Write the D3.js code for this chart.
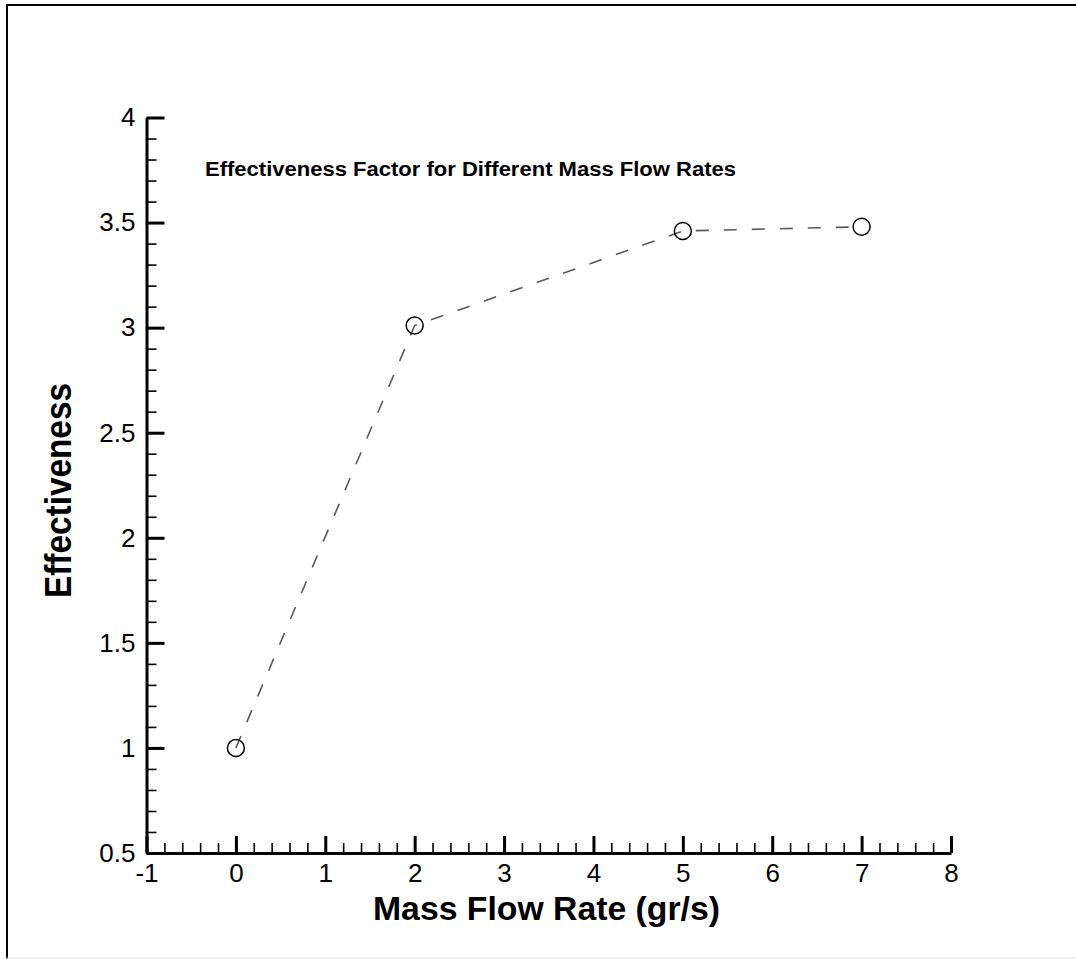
<!DOCTYPE html>
<html>
<head>
<meta charset="utf-8">
<script src="https://cdn.jsdelivr.net/npm/d3@7"></script>
<style>
  body { margin: 0; background: #fff; }
  svg { display: block; }
</style>
</head>
<body>
<div id="chart"></div>
<script>
// # Data.
const massFlow      = [0, 2, 5, 7]
const effectiveness = [1.0, 3.01, 3.46, 3.48]
const xMajorTicks   = [-1, 0, 1, 2, 3, 4, 5, 6, 7, 8]
const yMajorTicks   = [0.5, 1, 1.5, 2, 2.5, 3, 3.5, 4]
const chartTitle    = 'Effectiveness Factor for Different Mass Flow Rates'
const xTitle        = 'Mass Flow Rate (gr/s)'
const yTitle        = 'Effectiveness'

const width = 1076, height = 959
const points = massFlow.map((m, i) => ({x: m, y: effectiveness[i]}))

let svg = d3.select('#chart')
    .append('svg')
    .attr('width', width)
    .attr('height', height)

svg.append('rect')
    .attr('width', width)
    .attr('height', height)
    .attr('fill', '#fff')

// # Page frame (dark top/left, light bottom).
svg.append('line').attr('x1', 6).attr('x2', width).attr('y1', 5).attr('y2', 5)
    .attr('stroke', '#000').attr('stroke-width', 2)
svg.append('line').attr('x1', 7).attr('x2', 7).attr('y1', 4).attr('y2', height)
    .attr('stroke', '#000').attr('stroke-width', 2)
svg.append('line').attr('x1', 6).attr('x2', width).attr('y1', 958).attr('y2', 958)
    .attr('stroke', '#e4e4e4').attr('stroke-width', 1)

// # Scales.
let x = d3.scaleLinear().domain([-1, 8]).range([146.5, 951])
let y = d3.scaleLinear().domain([0.5, 4]).range([853, 117.5])

const font = '"Liberation Sans", Arial, Helvetica, sans-serif'

// # Minor ticks.
let xMinor = d3.range(-1, 8.001, 0.2).map(v => +v.toFixed(2))
let yMinor = d3.range(0.5, 4.001, 0.1).map(v => +v.toFixed(2))

svg.append('g')
    .attr('transform', `translate(0,${y(0.5)})`)
    .call(d3.axisBottom(x).tickValues(xMinor).tickSize(-10).tickFormat(''))
    .call(g => g.select('.domain').remove())
    .call(g => g.selectAll('line').attr('stroke', '#000').attr('stroke-width', 1.6))

svg.append('g')
    .attr('transform', `translate(${x(-1)},0)`)
    .call(d3.axisLeft(y).tickValues(yMinor).tickSize(-10).tickFormat(''))
    .call(g => g.select('.domain').remove())
    .call(g => g.selectAll('line').attr('stroke', '#000').attr('stroke-width', 1.6))

// # Major axes.
svg.append('g')
    .attr('transform', `translate(0,${y(0.5)})`)
    .call(d3.axisBottom(x).tickValues(xMajorTicks).tickSizeInner(-17).tickSizeOuter(0)
        .tickPadding(11).tickFormat(d3.format('d')))
    .call(g => g.select('.domain').attr('stroke', '#000').attr('stroke-width', 3))
    .call(g => g.selectAll('line').attr('stroke', '#000').attr('stroke-width', 3))
    .call(g => g.selectAll('text')
        .attr('fill', '#000')
        .style('font-family', font)
        .style('font-size', '26px')
        .text(d => d < 0 ? '-' + Math.abs(d) : d))

svg.append('g')
    .attr('transform', `translate(${x(-1)},0)`)
    .call(d3.axisLeft(y).tickValues(yMajorTicks).tickSizeInner(-18).tickSizeOuter(0)
        .tickPadding(11).tickFormat(d => d))
    .call(g => g.select('.domain').attr('stroke', '#000').attr('stroke-width', 3))
    .call(g => g.selectAll('line').attr('stroke', '#000').attr('stroke-width', 3))
    .call(g => g.selectAll('text')
        .attr('fill', '#000')
        .style('font-family', font)
        .style('font-size', '26px'))

// # Dashed line and symbols.
let line = d3.line().x(d => x(d.x)).y(d => y(d.y))
svg.append('path')
    .datum(points)
    .attr('d', line)
    .attr('fill', 'none')
    .attr('stroke', '#5a5a5a')
    .attr('stroke-width', 1.6)
    .attr('stroke-dasharray', '13,15')

svg.append('g')
    .selectAll('circle')
    .data(points)
    .enter().append('circle')
    .attr('cx', d => x(d.x))
    .attr('cy', d => y(d.y))
    .attr('r', 8.5)
    .attr('fill', 'none')
    .attr('stroke', '#000')
    .attr('stroke-width', 1.5)

// # Titles.
svg.append('text')
    .attr('x', 205).attr('y', 176)
    .attr('textLength', 531).attr('lengthAdjust', 'spacingAndGlyphs')
    .style('font-family', font).style('font-weight', 'bold').style('font-size', '20px')
    .text(chartTitle)

svg.append('text')
    .attr('x', 373).attr('y', 920)
    .attr('textLength', 347).attr('lengthAdjust', 'spacingAndGlyphs')
    .style('font-family', font).style('font-weight', 'bold').style('font-size', '34px')
    .text(xTitle)

svg.append('text')
    .attr('transform', 'translate(71,598) rotate(-90)')
    .attr('textLength', 215).attr('lengthAdjust', 'spacingAndGlyphs')
    .style('font-family', font).style('font-weight', 'bold').style('font-size', '37px')
    .text(yTitle)
</script>
</body>
</html>
